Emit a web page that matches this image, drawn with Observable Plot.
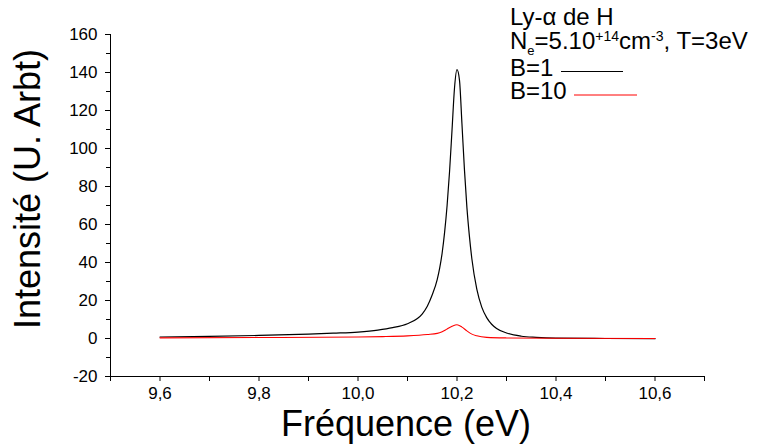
<!DOCTYPE html>
<html>
<head>
<meta charset="utf-8">
<script src="https://cdn.jsdelivr.net/npm/d3@7"></script>
<script src="https://cdn.jsdelivr.net/npm/@observablehq/plot@0.6"></script>
<style>
  html, body { margin: 0; padding: 0; background: #fff; }
  #chart svg { display: block; }
</style>
</head>
<body>
<div id="chart"></div>
<script>
// Series B=1 (black)
const freqB1 = [9.60, 9.70, 9.80, 9.90, 9.95, 10.00, 10.04, 10.07, 10.10, 10.12, 10.13, 10.14, 10.15, 10.16, 10.165, 10.17, 10.175, 10.18, 10.185, 10.19, 10.195, 10.20, 10.205, 10.21, 10.215, 10.22, 10.225, 10.23, 10.24, 10.25, 10.26, 10.27, 10.28, 10.30, 10.33, 10.36, 10.40, 10.50, 10.60];
const intB1  = [0.8, 1.1, 1.6, 2.3, 2.8, 3.4, 4.4, 5.7, 7.8, 10.5, 13.0, 17.0, 23.0, 31.0, 37.0, 45.0, 56.0, 70.0, 88.0, 110.0, 132.0, 141.5, 136.0, 113.0, 89.0, 69.0, 54.0, 42.0, 26.0, 16.5, 11.0, 7.5, 5.3, 2.9, 1.2, 0.6, 0.2, 0.0, -0.1];
// Series B=10 (red)
const freqB10 = [9.60, 9.80, 10.00, 10.05, 10.10, 10.14, 10.16, 10.17, 10.18, 10.19, 10.20, 10.21, 10.22, 10.23, 10.24, 10.26, 10.30, 10.40, 10.60];
const intB10  = [0.35, 0.5, 0.8, 1.0, 1.4, 2.1, 2.7, 3.6, 5.0, 6.4, 7.2, 6.0, 4.0, 2.3, 1.4, 0.6, 0.3, 0.1, 0.0];

const xMajorTicks = [9.6, 9.8, 10.0, 10.2, 10.4, 10.6];
const xMinorTicks = [9.5, 9.7, 9.9, 10.1, 10.3, 10.5, 10.7];
const yMajorTicks = [-20, 0, 20, 40, 60, 80, 100, 120, 140, 160];
const yMinorTicks = [-10, 10, 30, 50, 70, 90, 110, 130, 150];

const xLabel = "Fréquence (eV)";
const yLabel = "Intensité (U. Arbt)";

const b1 = freqB1.map((f, i) => ({f, v: intB1[i]}));
const b10 = freqB10.map((f, i) => ({f, v: intB10[i]}));

const font = "'Liberation Sans', Arial, sans-serif";
const fmt = d => d.toFixed(1).replace(".", ",");

const plot = Plot.plot({
  width: 759,
  height: 448,
  marginLeft: 110,
  marginRight: 55,
  marginTop: 34,
  marginBottom: 72,
  style: {fontFamily: font, fontSize: "17px", color: "black", background: "white", overflow: "visible"},
  x: {domain: [9.5, 10.7]},
  y: {domain: [-20, 160]},
  marks: [
    Plot.axisX(xMinorTicks, {tickSize: 5, tickFormat: () => "", label: null, stroke: "black"}),
    Plot.axisX(xMajorTicks, {tickSize: 5, tickPadding: 5, tickFormat: fmt, label: null, stroke: "black", fill: "black", fontSize: 17}),
    Plot.axisY(yMinorTicks, {tickSize: 4, tickFormat: () => "", label: null, stroke: "black"}),
    Plot.axisY(yMajorTicks, {tickSize: 5, tickPadding: 8, tickFormat: d => String(d), label: null, stroke: "black", fill: "black", fontSize: 17}),
    Plot.ruleY([-20], {stroke: "black", strokeWidth: 1}),
    Plot.ruleX([9.5], {stroke: "black", strokeWidth: 1}),
    Plot.line(b1, {x: "f", y: "v", stroke: "black", strokeWidth: 1.2, curve: "monotone-x"}),
    Plot.line(b10, {x: "f", y: "v", stroke: "red", strokeWidth: 1.1, curve: "monotone-x"})
  ]
});

document.getElementById("chart").appendChild(plot);

const svg = d3.select(plot);
// Axis titles
svg.append("text")
  .attr("x", 406).attr("y", 436)
  .attr("text-anchor", "middle")
  .attr("font-family", font).attr("font-size", 36).attr("fill", "black")
  .text(xLabel);
svg.append("text")
  .attr("transform", "translate(40,189) rotate(-90)")
  .attr("text-anchor", "middle")
  .attr("font-family", font).attr("font-size", 36).attr("fill", "black")
  .text(yLabel);

// Legend block
const lg = svg.append("g").attr("font-family", font).attr("font-size", 24).attr("fill", "black").attr("text-anchor", "start");
lg.append("text").attr("x", 510).attr("y", 25).text("Ly-α de H");
const t2 = lg.append("text").attr("x", 510).attr("y", 49);
t2.append("tspan").text("N");
t2.append("tspan").attr("font-size", 13).attr("dy", 6).text("e");
t2.append("tspan").attr("dy", -6).text("=5.10");
t2.append("tspan").attr("font-size", 14).attr("dy", -8).text("+14");
t2.append("tspan").attr("dy", 8).text("cm");
t2.append("tspan").attr("font-size", 14).attr("dy", -8).text("-3");
t2.append("tspan").attr("dy", 8).text(", T=3eV");
lg.append("text").attr("x", 510).attr("y", 76).text("B=1");
lg.append("line").attr("x1", 561).attr("x2", 623).attr("y1", 71.5).attr("y2", 71.5).attr("stroke", "black").attr("stroke-width", 1);
lg.append("text").attr("x", 510).attr("y", 99).text("B=10");
lg.append("line").attr("x1", 574).attr("x2", 637).attr("y1", 95).attr("y2", 95).attr("stroke", "red").attr("stroke-width", 1);
</script>
</body>
</html>
